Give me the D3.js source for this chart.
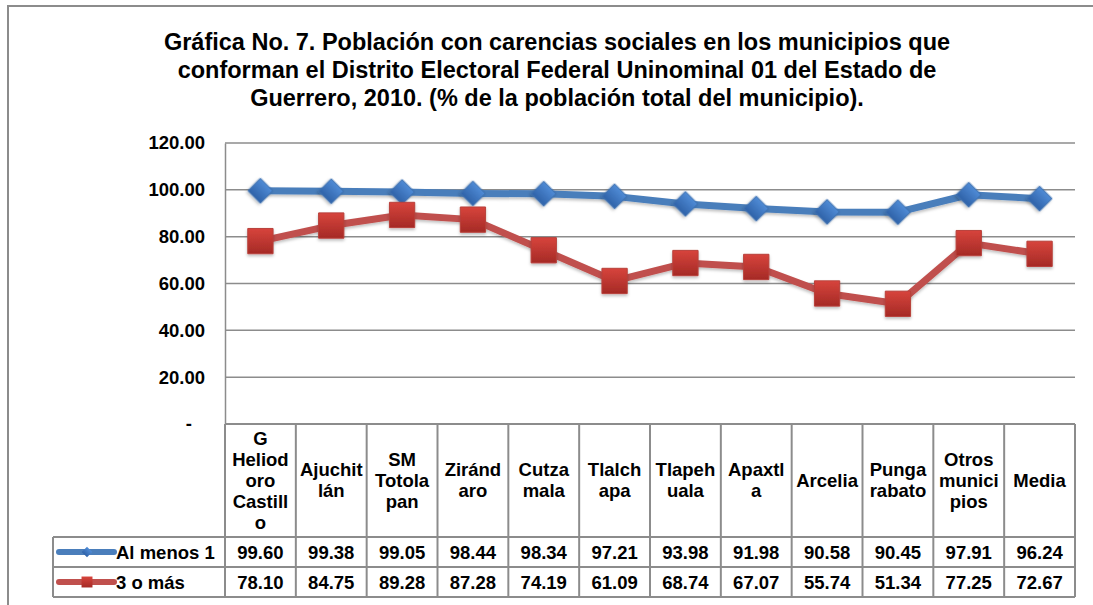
<!DOCTYPE html>
<html lang="es">
<head>
<meta charset="utf-8">
<title>Gráfica No. 7</title>
<script src="https://cdn.jsdelivr.net/npm/d3@7"></script>
<style>
  body { margin: 0; background: #fff; }
  svg { display: block; font-family: "Liberation Sans", Arial, sans-serif; font-weight: bold; }
</style>
</head>
<body>
<svg id="chart" width="1093" height="605"></svg>
<script>
// data
var municipios = ["G\nHeliod\noro\nCastill\no", "Ajuchit\nlán", "SM\nTotola\npan", "Ziránd\naro",
  "Cutza\nmala", "Tlalch\napa", "Tlapeh\nuala", "Apaxtl\na", "Arcelia", "Punga\nrabato",
  "Otros\nmunici\npios", "Media"];
var alMenos1 = [99.60, 99.38, 99.05, 98.44, 98.34, 97.21, 93.98, 91.98, 90.58, 90.45, 97.91, 96.24];
var tresOMas = [78.10, 84.75, 89.28, 87.28, 74.19, 61.09, 68.74, 67.07, 55.74, 51.34, 77.25, 72.67];
var yTicks = [0, 20, 40, 60, 80, 100, 120];
var titleLines = ["Gráfica No. 7. Población con carencias sociales en los municipios que",
  "conforman el Distrito Electoral Federal Uninominal 01 del Estado de",
  "Guerrero, 2010. (% de la población total del municipio)."];

var series = [
  { name: "Al menos 1", values: alMenos1, color: "#4a7ebb", marker: "diamond" },
  { name: "3 o más", values: tresOMas, color: "#c0504d", marker: "square" }
];

var svg = d3.select("#chart");
var plotL = 225, plotR = 1075, plotT = 143, plotB = 424;
var rowH = 30, headBottom = 537, legendLeft = 53;
var fs = 18.5;

var x = d3.scaleBand().domain(d3.range(municipios.length)).range([plotL, plotR]);
var y = d3.scaleLinear().domain([0, 120]).range([plotB, plotT]);

// outer frame
svg.append("path").attr("d", "M8,605 V6 H1093")
  .attr("fill", "none").attr("stroke", "#8c8c8c").attr("stroke-width", 2);

// title
svg.append("g").selectAll("text").data(titleLines).join("text")
  .attr("x", 557).attr("y", function(d, i) { return 50 + i * 28; })
  .attr("text-anchor", "middle").attr("font-size", 23.5).attr("fill", "#000")
  .text(function(d) { return d; });

// gradients for markers
var defs = svg.append("defs");
[["gBlue", "#4f8bd6", "#2f62a8"], ["gRed", "#d7443c", "#a52a26"]].forEach(function(g) {
  var lg = defs.append("linearGradient").attr("id", g[0]).attr("x1", 0).attr("y1", 0).attr("x2", 0).attr("y2", 1);
  lg.append("stop").attr("offset", "0%").attr("stop-color", g[1]);
  lg.append("stop").attr("offset", "100%").attr("stop-color", g[2]);
});
var shadow = defs.append("filter").attr("id", "shadow").attr("x", "-50%").attr("y", "-50%").attr("width", "200%").attr("height", "200%");
shadow.append("feDropShadow").attr("dx", 0).attr("dy", 2).attr("stdDeviation", 1.5).attr("flood-color", "#000").attr("flood-opacity", 0.25);

// gridlines
svg.append("g").selectAll("line").data(yTicks.filter(function(d) { return d > 0; })).join("line")
  .attr("x1", plotL).attr("x2", plotR)
  .attr("y1", function(d) { return y(d); }).attr("y2", function(d) { return y(d); })
  .attr("stroke", "#8c8c8c").attr("stroke-width", 1.5);

// y axis
var yAxis = svg.append("g").attr("transform", "translate(" + plotL + ",0)")
  .call(d3.axisLeft(y).tickValues(yTicks).tickSize(0).tickPadding(20)
    .tickFormat(function(d) { return d === 0 ? "-" : d3.format(".2f")(d); }));
yAxis.select(".domain").attr("stroke", "#8c8c8c").attr("stroke-width", 1.5);
yAxis.selectAll("text").attr("font-size", fs).attr("font-family", "Liberation Sans, Arial, sans-serif")
  .attr("font-weight", "bold").attr("fill", "#000")
  .attr("dx", function(d) { return d === 0 ? -13 : 0; });

// lines + markers
var line = d3.line().x(function(d, i) { return x(i) + x.bandwidth() / 2; }).y(function(d) { return y(d); });
series.forEach(function(s) {
  svg.append("path").datum(s.values).attr("d", line)
    .attr("fill", "none").attr("stroke", s.color).attr("stroke-width", 7)
    .attr("stroke-linejoin", "round").attr("filter", "url(#shadow)");
});
series.forEach(function(s) {
  var sym = s.marker === "diamond"
    ? d3.symbol().type(d3.symbolSquare).size(310)
    : d3.symbol().type(d3.symbolSquare).size(640);
  svg.append("g").selectAll("path").data(s.values).join("path")
    .attr("d", sym)
    .attr("transform", function(d, i) {
      return "translate(" + (x(i) + x.bandwidth() / 2) + "," + y(d) + ")" + (s.marker === "diamond" ? " rotate(45)" : "");
    })
    .attr("fill", s.marker === "diamond" ? "url(#gBlue)" : "url(#gRed)")
    .attr("stroke", s.marker === "diamond" ? "#3c6fb0" : "#b8403b").attr("stroke-width", 1)
    .attr("filter", "url(#shadow)");
});

// data table
var tbl = svg.append("g").attr("stroke", "#8c8c8c").attr("stroke-width", 2);
tbl.append("line").attr("x1", plotL).attr("x2", plotR).attr("y1", plotB).attr("y2", plotB);
d3.range(municipios.length + 1).forEach(function(i) {
  var xx = i < municipios.length ? x(i) : plotR;
  tbl.append("line").attr("x1", xx).attr("x2", xx).attr("y1", plotB).attr("y2", headBottom + 2 * rowH);
});
tbl.append("line").attr("x1", legendLeft).attr("x2", legendLeft).attr("y1", headBottom).attr("y2", headBottom + 2 * rowH);
[0, 1, 2].forEach(function(r) {
  tbl.append("line").attr("x1", legendLeft).attr("x2", plotR)
    .attr("y1", headBottom + r * rowH).attr("y2", headBottom + r * rowH);
});

// header labels
var head = svg.append("g").selectAll("text").data(municipios).join("text")
  .attr("text-anchor", "middle").attr("font-size", fs).attr("fill", "#000");
head.each(function(d, i) {
  var parts = d.split("\n");
  var lh = 21;
  var cy = (plotB + headBottom) / 2 - (parts.length - 1) * lh / 2 + 6;
  d3.select(this).selectAll("tspan").data(parts).join("tspan")
    .attr("x", x(i) + x.bandwidth() / 2)
    .attr("y", function(p, j) { return cy + j * lh; })
    .text(function(p) { return p; });
});

// value rows + legend keys
series.forEach(function(s, r) {
  var ly = headBottom + r * rowH + rowH / 2;
  svg.append("g").selectAll("text").data(s.values).join("text")
    .attr("x", function(d, i) { return x(i) + x.bandwidth() / 2; })
    .attr("y", ly + 6.5).attr("text-anchor", "middle").attr("font-size", fs).attr("fill", "#000")
    .text(function(d) { return d3.format(".2f")(d); });
  svg.append("line").attr("x1", 59).attr("x2", 114).attr("y1", ly).attr("y2", ly)
    .attr("stroke", s.color).attr("stroke-width", 6).attr("stroke-linecap", "round");
  svg.append("path")
    .attr("d", d3.symbol().type(d3.symbolSquare).size(s.marker === "diamond" ? 55 : 120))
    .attr("transform", "translate(87," + ly + ")" + (s.marker === "diamond" ? " rotate(45)" : ""))
    .attr("fill", s.marker === "diamond" ? "url(#gBlue)" : "url(#gRed)");
  svg.append("text").attr("x", 116).attr("y", ly + 6.5).attr("font-size", fs).attr("fill", "#000")
    .text(s.name);
});
</script>
</body>
</html>
